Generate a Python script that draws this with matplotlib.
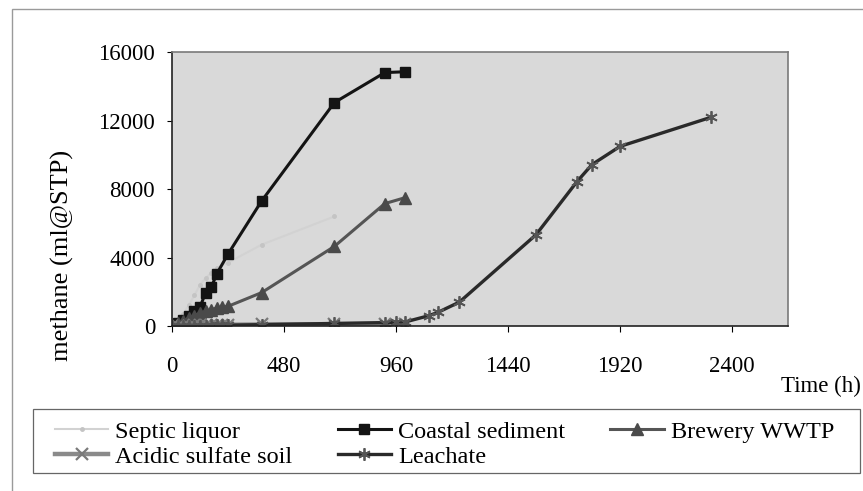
# Cumulative methane production from five inocula

import matplotlib.pyplot as plt
from matplotlib.patches import Rectangle

# Data
septic_t = [0, 24, 48, 72, 96, 120, 144, 168, 192, 240, 384, 696]
septic_y = [0, 300, 700, 1200, 1800, 2400, 2800, 3100, 3400, 3700, 4750, 6400]

coastal_t = [0, 24, 48, 72, 96, 120, 144, 168, 192, 240, 384, 696, 912, 1000]
coastal_y = [0, 150, 350, 600, 850, 1100, 1950, 2250, 3050, 4200, 7300,
             13050, 14800, 14850]

brewery_t = [0, 24, 48, 72, 96, 120, 144, 168, 192, 216, 240, 384, 696,
             912, 1000]
brewery_y = [0, 150, 300, 450, 600, 750, 850, 950, 1050, 1100, 1150, 1950,
             4650, 7150, 7500]

acidic_t = [0, 24, 48, 72, 96, 120, 144, 168, 192, 216, 240, 384, 696,
            912, 1000]
acidic_y = [0, 10, 20, 30, 40, 50, 55, 60, 65, 70, 75, 90, 110, 120, 130]

leachate_t = [0, 24, 48, 72, 96, 120, 144, 168, 192, 216, 240, 384, 696,
              912, 960, 1000, 1100, 1140, 1232, 1560, 1736, 1800, 1920, 2310]
leachate_y = [0, 5, 10, 15, 20, 25, 30, 35, 40, 45, 50, 80, 150, 200, 220,
              240, 600, 800, 1400, 5330, 8440, 9430, 10490, 12190]

x_ticks = [0, 480, 960, 1440, 1920, 2400]
y_ticks = [0, 4000, 8000, 12000, 16000]

plt.rcParams['font.family'] = ['Liberation Serif', 'DejaVu Serif']

fig = plt.figure(figsize=(8.63, 4.91), dpi=100)
ax = fig.add_axes([0.1993, 0.336, 0.7138, 0.558])
ax.set_facecolor('#d9d9d9')

# Series, in the same order as the original workbook
l_septic, = ax.plot(septic_t, septic_y, color='#d2d2d2', lw=1.5,
                    marker='o', ms=2.5, mfc='#c4c4c4', mec='#c4c4c4',
                    label='Septic liquor')
l_coastal, = ax.plot(coastal_t, coastal_y, color='#141414', lw=2.2,
                     marker='s', ms=7, mfc='#141414', mec='#141414',
                     label='Coastal sediment')
l_brewery, = ax.plot(brewery_t, brewery_y, color='#555555', lw=2.2,
                     marker='^', ms=8, mfc='#4a4a4a', mec='#4a4a4a',
                     label='Brewery WWTP')
l_acidic, = ax.plot(acidic_t, acidic_y, color='#8a8a8a', lw=3.2,
                    marker='x', ms=8, mew=1.6, mec='#7a7a7a',
                    label='Acidic sulfate soil')
l_leach, = ax.plot(leachate_t, leachate_y, color='#2a2a2a', lw=2.4,
                   marker=(6, 2, 0), ms=9, mew=1.3, mec='#555555',
                   label='Leachate')

ax.set_xlim(0, 2640)
ax.set_ylim(0, 16000)
ax.set_xticks(x_ticks)
ax.set_yticks(y_ticks)
ax.tick_params(axis='x', direction='out', length=4.3, pad=17, labelsize=16.5)
ax.tick_params(axis='y', direction='out', length=3.6, pad=8.5, labelsize=16.5)

for side in ['top', 'right']:
    ax.spines[side].set_color('#7a7a7a')
    ax.spines[side].set_linewidth(1.2)
for side in ['left', 'bottom']:
    ax.spines[side].set_color('#222222')
    ax.spines[side].set_linewidth(1.2)

fig.text(0.0718, 0.4807, 'methane (ml@STP)', fontsize=19, rotation=90,
         ha='center', va='center')
fig.text(0.997, 0.212, 'Time (h)', fontsize=16.5, ha='right', va='center')

# Legend filled row by row, as in the original
handles = [l_septic, l_acidic, l_coastal, l_leach, l_brewery]
fig.legend(handles, [h.get_label() for h in handles], ncol=3,
           loc='upper left', bbox_to_anchor=(0.0637, 0.143), fontsize=17.5,
           frameon=False, borderpad=0, borderaxespad=0, labelspacing=0.12,
           handlelength=2.2, handletextpad=0.29, columnspacing=1.85)

# Legend frame and outer chart border
fig.patches.append(Rectangle((0.038, 0.037), 0.959, 0.130,
                             transform=fig.transFigure, fill=False,
                             edgecolor='#666666', lw=0.9))
fig.patches.append(Rectangle((0.014, -0.05), 1.1, 1.032,
                             transform=fig.transFigure, fill=False,
                             edgecolor='#9a9a9a', lw=1))

fig.savefig('out.png', dpi=100)
